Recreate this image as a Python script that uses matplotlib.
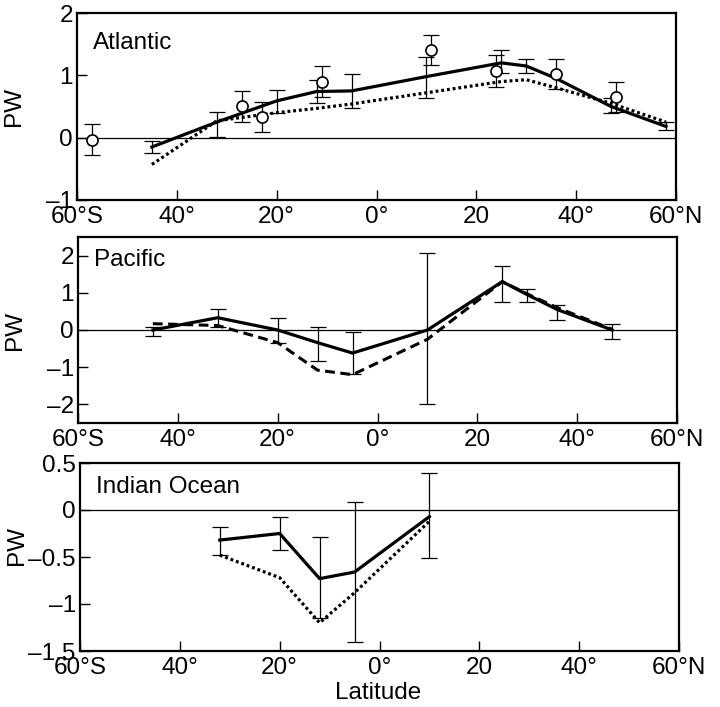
import matplotlib
matplotlib.use("Agg")
import matplotlib.pyplot as plt

plt.rcParams['font.family'] = ['Liberation Sans', 'DejaVu Sans']
FS = 17.5

# ---------------- data ----------------
x_ticks = [-60, -40, -20, 0, 20, 40, 60]
x_ticklabels = ["60°S", "40°", "20°", "0°", "20", "40°", "60°N"]

# Atlantic
atl_lat = [-45, -32, -20, -12, -5, 10, 25, 30, 36, 47, 58]
atl_model = [-0.15, 0.25, 0.59, 0.74, 0.75, 0.98, 1.2, 1.15, 0.95, 0.5, 0.18]
atl_dotted = [-0.43, 0.27, 0.4, 0.47, 0.54, 0.72, 0.9, 0.93, 0.8, 0.55, 0.25]
atl_err_lat = [-45, -32, -20, -12, -5, 10, 25, 30, 47, 58]
atl_err_val = [-0.15, 0.21, 0.58, 0.74, 0.75, 0.97, 1.22, 1.15, 0.52, 0.19]
atl_err = [0.09, 0.2, 0.18, 0.19, 0.27, 0.33, 0.18, 0.12, 0.12, 0.06]
atl_obs_lat = [-57, -27, -23, -11, 11, 24, 36, 48]
atl_obs_val = [-0.03, 0.5, 0.33, 0.9, 1.4, 1.07, 1.02, 0.65]
atl_obs_err = [0.25, 0.25, 0.24, 0.25, 0.24, 0.26, 0.24, 0.24]
atl_yticks = [-1, 0, 1, 2]
atl_yticklabels = ["\u20131", "0", "1", "2"]

# Pacific
pac_lat = [-45, -32, -20, -12, -5, 10, 25, 30, 36, 47]
pac_model = [0.0, 0.33, 0.0, -0.34, -0.62, 0.0, 1.3, 0.95, 0.55, 0.0]
pac_dashed = [0.17, 0.12, -0.34, -1.08, -1.2, -0.25, 1.3, 0.97, 0.6, 0.02]
pac_err_val = [-0.03, 0.33, -0.02, -0.38, -0.62, 0.04, 1.23, 0.92, 0.47, -0.04]
pac_err = [0.12, 0.24, 0.33, 0.46, 0.57, 2.02, 0.48, 0.17, 0.2, 0.21]
pac_yticks = [-2, -1, 0, 1, 2]
pac_yticklabels = ["\u20132", "\u20131", "0", "1", "2"]

# Indian Ocean
ind_lat = [-32, -20, -12, -5, 10]
ind_model = [-0.32, -0.25, -0.73, -0.66, -0.07]
ind_dotted = [-0.48, -0.72, -1.2, -0.88, -0.12]
ind_err_val = [-0.33, -0.25, -0.72, -0.66, -0.06]
ind_err = [0.15, 0.18, 0.43, 0.74, 0.45]
ind_yticks = [-1.5, -1, -0.5, 0, 0.5]
ind_yticklabels = ["\u20131.5", "\u20131", "\u20130.5", "0", "0.5"]

# ---------------- figure ----------------
fig = plt.figure(figsize=(7.2, 7.07), dpi=100)
W, H = 720.0, 707.0

def make_ax(left, right, top, bottom):
    return fig.add_axes([left / W, 1 - bottom / H, (right - left) / W, (bottom - top) / H])

ax1 = make_ax(77, 676, 13, 200)
ax2 = make_ax(78, 677, 237, 423)
ax3 = make_ax(80, 679, 463, 651)

dot_style = (0, (0.9, 0.9))
dash_style = (0, (3.2, 1.8))
eb_kw = dict(fmt='none', ecolor='black', elinewidth=0.9, capsize=6, capthick=0.9, zorder=3)

def style(ax, ylim, yticks, yticklabels, name, name_y, label_y=0.5):
    ax.set_xlim(-60, 60)
    ax.set_ylim(*ylim)
    ax.set_xticks(x_ticks)
    ax.set_xticklabels(x_ticklabels, fontsize=FS)
    ax.set_yticks(yticks)
    ax.set_yticklabels(yticklabels, fontsize=FS)
    ax.tick_params(direction='in', length=7, width=1.0, pad=3)
    ax.tick_params(axis='x', pad=4)
    for s in ax.spines.values():
        s.set_linewidth(1.6)
    ax.axhline(0, color='black', lw=0.9, zorder=1)
    ax.set_ylabel("PW", fontsize=FS)
    ax.yaxis.set_label_coords(-0.087, label_y)
    ax.text(0.027, name_y, name, transform=ax.transAxes, fontsize=FS, va='center', ha='left')

# Atlantic
ax1.plot(atl_lat, atl_dotted, color='black', lw=2.3, linestyle=dot_style, zorder=2)
ax1.plot(atl_lat, atl_model, color='black', lw=2.3, zorder=4)
ax1.errorbar(atl_err_lat, atl_err_val, yerr=atl_err, **eb_kw)
ax1.errorbar(atl_obs_lat, atl_obs_val, yerr=atl_obs_err, **eb_kw)
ax1.plot(atl_obs_lat, atl_obs_val, 'o', mfc='white', mec='black', ms=8, mew=1.2, zorder=5)
style(ax1, (-1, 2), atl_yticks, atl_yticklabels, "Atlantic", 0.84)

# Pacific
ax2.plot(pac_lat, pac_dashed, color='black', lw=2.2, linestyle=dash_style, zorder=2)
ax2.plot(pac_lat, pac_model, color='black', lw=2.3, zorder=4)
ax2.errorbar(pac_lat, pac_err_val, yerr=pac_err, **eb_kw)
style(ax2, (-2.5, 2.5), pac_yticks, pac_yticklabels, "Pacific", 0.876)

# Indian
ax3.plot(ind_lat, ind_dotted, color='black', lw=2.3, linestyle=dot_style, zorder=2)
ax3.plot(ind_lat, ind_model, color='black', lw=2.3, zorder=4)
ax3.errorbar(ind_lat, ind_err_val, yerr=ind_err, **eb_kw)
style(ax3, (-1.5, 0.5), ind_yticks, ind_yticklabels, "Indian Ocean", 0.872, label_y=0.56)

fig.text(378 / W, 1 - 693 / H, "Latitude", fontsize=FS, ha='center', va='center')

fig.savefig("out.png", dpi=100)
